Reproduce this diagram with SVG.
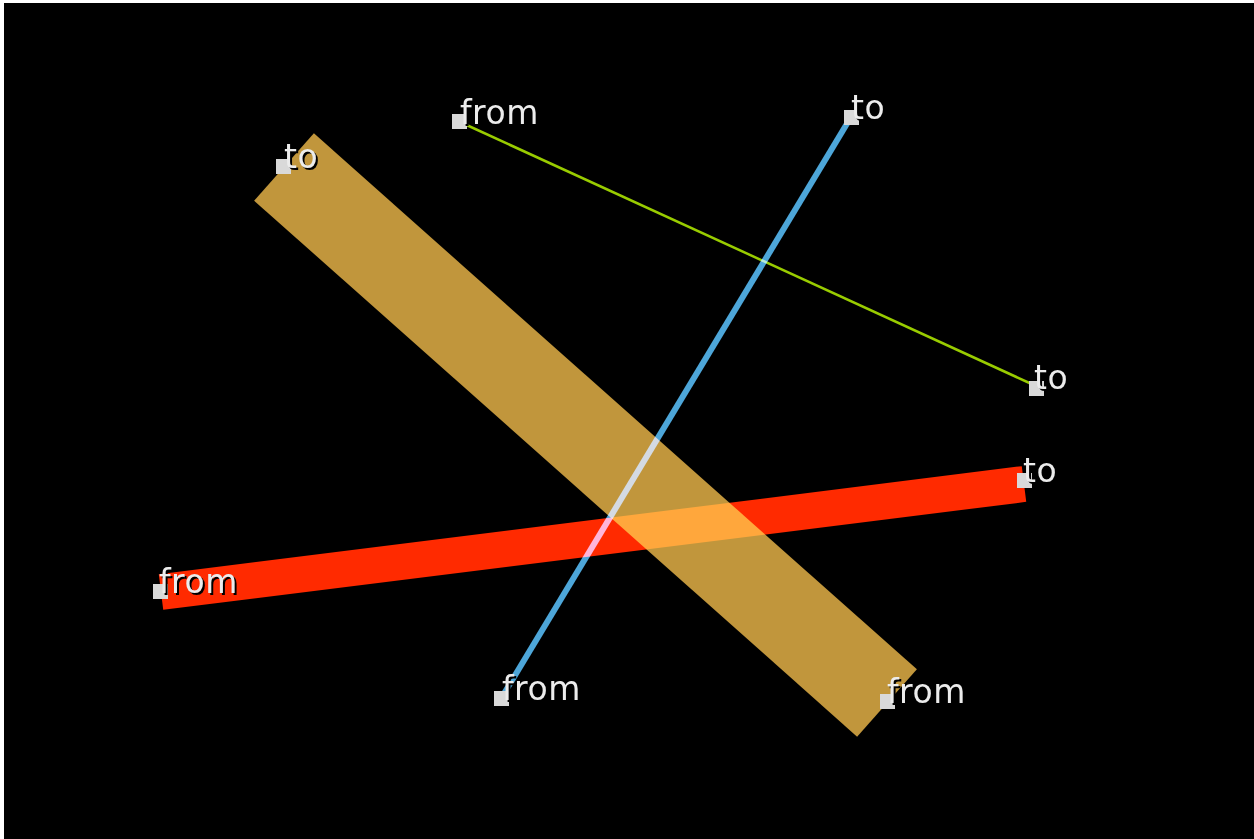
<svg xmlns="http://www.w3.org/2000/svg" width="1254" height="839" viewBox="0 0 1254 839">
<style>
.band{fill:none;stroke-linecap:butt;mix-blend-mode:screen}
.pt{fill:#d9d9d9}
.lbl{font-family:"DejaVu Sans",sans-serif;font-size:33px;fill:#ececec;letter-spacing:0.5px}
.sh{font-family:"DejaVu Sans",sans-serif;font-size:33px;fill:#000;letter-spacing:0.5px}
</style>
<rect x="0" y="0" width="1254" height="839" fill="#fff"/>
<rect x="4" y="3" width="1250" height="836" fill="#000"/>
<g id="connectors">
<line class="band" x1="161" y1="592" x2="1024" y2="484" stroke="#ff2a00" stroke-width="36"/>
<line class="band" x1="887" y1="703" x2="284" y2="167" stroke="#c1963c" stroke-width="90"/>
<line class="band" x1="502" y1="697" x2="851" y2="117" stroke="#4da6d9" stroke-width="6"/>
<line class="band" x1="460" y1="122" x2="1036" y2="386" stroke="#99cc00" stroke-width="2.5"/>
</g>
<g id="red-from"><rect class="pt" x="153" y="584" width="15" height="15"/><text class="sh" x="161" y="595">from</text><text class="lbl" x="159" y="593">from</text></g>
<g id="red-to"><rect class="pt" x="1017" y="473" width="15" height="15"/><text class="sh" x="1025" y="484">to</text><text class="lbl" x="1023" y="482">to</text></g>
<g id="tan-from"><rect class="pt" x="880" y="694" width="15" height="15"/><text class="sh" x="889" y="705">from</text><text class="lbl" x="887" y="703">from</text></g>
<g id="tan-to"><rect class="pt" x="276" y="159" width="15" height="15"/><text class="sh" x="286" y="170">to</text><text class="lbl" x="284" y="168">to</text></g>
<g id="blue-from"><rect class="pt" x="494" y="691" width="15" height="15"/><text class="sh" x="504" y="702">from</text><text class="lbl" x="502" y="700">from</text></g>
<g id="blue-to"><rect class="pt" x="844" y="110" width="15" height="15"/><text class="sh" x="853" y="121">to</text><text class="lbl" x="851" y="119">to</text></g>
<g id="green-from"><rect class="pt" x="452" y="114" width="15" height="15"/><text class="sh" x="462" y="126">from</text><text class="lbl" x="460" y="124">from</text></g>
<g id="green-to"><rect class="pt" x="1029" y="381" width="15" height="15"/><text class="sh" x="1036" y="391">to</text><text class="lbl" x="1034" y="389">to</text></g>
</svg>
